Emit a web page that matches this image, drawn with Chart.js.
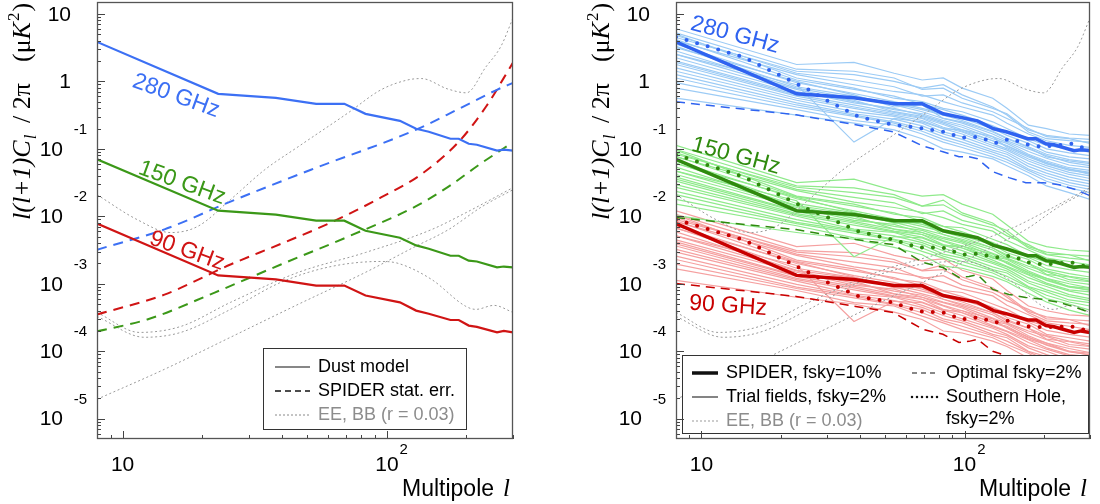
<!DOCTYPE html>
<html>
<head>
<meta charset="utf-8">
<script src="https://cdn.jsdelivr.net/npm/chart.js@4.4.1/dist/chart.umd.min.js"></script>
<style>
  body { margin: 0; background: #fff; width: 1100px; height: 504px; overflow: hidden; }
  canvas { position: absolute; top: 0; }
</style>
</head>
<body>
<canvas id="leftChart" width="550" height="504" style="left:0px"></canvas>
<canvas id="rightChart" width="550" height="504" style="left:550px"></canvas>
<script>
// axis ranges and tick labels
const xMin = 8, xMax = 300;
const yMin = 5e-6, yMax = 15;
const xMajor = [10, 100];
const xMinor = [9, 20, 30, 40, 50, 60, 70, 80, 90, 200, 300];
const yMajorExp = [1, 0, -1, -2, -3, -4, -5];

// dust model (binned), l and D_l in uK^2
const dustL = [8, 23, 38, 54, 69, 83, 112, 129, 144, 174, 187, 204, 219, 261, 277, 300];
const dust280 = [3.84, 0.653, 0.570, 0.465, 0.465, 0.330, 0.260, 0.198, 0.179, 0.141, 0.141, 0.119, 0.115, 0.094, 0.097, 0.094];
const dust150 = [0.070, 0.0121, 0.0106, 0.0086, 0.0086, 0.0061, 0.0048, 0.0037, 0.0033, 0.0026, 0.0026, 0.0022, 0.00214, 0.00175, 0.0018, 0.00175];
const dust90 = [0.0078, 0.00133, 0.00116, 0.00094, 0.00094, 0.00067, 0.00053, 0.00040, 0.00036, 0.00029, 0.00029, 0.00024, 0.00023, 0.00019, 0.0002, 0.00019];

// SPIDER stat. err.
const noise280L = [8, 14.4, 25.6, 51.6, 128, 187, 261, 300];
const noise280 = [0.0032, 0.0064, 0.0165, 0.049, 0.19, 0.39, 0.75, 0.95];
const noise150L = [8, 12.4, 22.3, 39.7, 71.4, 128, 171, 229, 300];
const noise150 = [1.97e-4, 2.96e-4, 7.4e-4, 1.93e-3, 5.0e-3, 0.0139, 0.0275, 0.0622, 0.125];
const noise90L = [8, 14.4, 25.6, 39.7, 61.5, 95, 135, 187, 237, 300];
const noise90 = [3.5e-4, 6.9e-4, 1.93e-3, 3.9e-3, 8.1e-3, 0.019, 0.042, 0.127, 0.42, 1.9];

// CMB spectra, r = 0.03
const eeL = [8, 11.35, 15.2, 19.2, 25.6, 34.5, 46.1, 71.4, 95, 120, 135, 170, 200, 237, 270, 300];
const ee = [0.0209, 0.00893, 0.00574, 0.00705, 0.0177, 0.049, 0.107, 0.342, 0.75, 1.05, 1.1, 0.77, 0.676, 1.64, 3.3, 8.7];
const bbTotL = [8, 11.6, 16.6, 25.6, 46.1, 82.8, 147.5, 199, 300];
const bbTot = [3.76e-4, 1.9e-4, 2.33e-4, 5.3e-4, 1.47e-3, 2.9e-3, 6.35e-3, 1.13e-2, 2.66e-2];
const bbTensL = [8, 12.1, 16.6, 25.6, 39.7, 61.5, 95, 110.6, 147.5, 199, 217, 254, 300];
const bbTens = [3.28e-4, 1.61e-4, 1.9e-4, 4.17e-4, 1.05e-3, 1.8e-3, 2.14e-3, 2.0e-3, 1.16e-3, 4.62e-4, 4.17e-4, 4.78e-4, 3.76e-4];
const bbLensL = [8, 14.4, 25.6, 46.1, 82.8, 128, 171, 229, 300];
const bbLens = [1.94e-5, 5.4e-5, 1.61e-4, 4.94e-4, 1.47e-3, 3.56e-3, 6.35e-3, 1.39e-2, 2.48e-2];

// Southern Hole, fsky=2%
const shL = [8, 14.4, 25.6, 29.7, 39.7, 53.5, 67, 82.8, 98, 112, 132, 150, 175, 199, 254, 300];
const sh280 = [4.55, 2.30, 0.748, 0.532, 0.298, 0.227, 0.205, 0.179, 0.146, 0.151, 0.123, 0.141, 0.115, 0.107, 0.119, 0.097];
const sh150 = [0.0818, 0.0387, 0.01256, 0.0099, 0.00594, 0.00452, 0.00344, 0.00344, 0.00271, 0.0028, 0.00245, 0.00262, 0.00207, 0.00193, 0.00207, 0.00174];
const sh90 = [0.00893, 0.00452, 0.00147, 0.00108, 0.000649, 0.000528, 0.000389, 0.000376, 0.000296, 0.000317, 0.000267, 0.000286, 0.000233, 0.000226, 0.000233, 0.000197];

// Optimal fsky=2%
const optL = [8, 22.9, 38.6, 53.5, 69.5, 82.8, 95.3, 104, 112, 128, 147.5, 171, 199, 229, 265, 300];
const opt280 = [0.497, 0.319, 0.227, 0.179, 0.11, 0.0906, 0.0764, 0.0764, 0.0714, 0.0459, 0.0374, 0.0315, 0.0315, 0.0294, 0.0248, 0.0202];
const opt150 = [0.00957, 0.00635, 0.00452, 0.00381, 0.00207, 0.00174, 0.00124, 0.00128, 0.00137, 0.000824, 0.000695, 0.000627, 0.000586, 0.000528, 0.000446, 0.000376];
const opt90 = [0.00101, 0.000649, 0.000461, 0.000376, 0.000211, 0.000178, 0.000135, 0.00014, 0.00015, 0.0000997, 0.000084, 0.000076, 0.000071, 0.000064, 0.000054, 0.000045];

// trial fields, fsky=2% (log10 of D_l)
const trialL = [8, 23, 38, 54, 69, 83, 98, 128, 145, 175, 205, 250, 300];
const trial280Log = [
  [0.78, 0.25, 0.28, 0.12, 0.02, 0.05, -0.10, -0.25, -0.40, -0.65, -0.70, -0.78, -0.80],
  [0.65, 0.15, 0.10, 0.00, -0.10, -0.05, -0.20, -0.38, -0.50, -0.75, -0.85, -0.88, -0.90],
  [0.70, 0.05, -0.10, -0.25, -0.30, -0.40, -0.45, -0.60, -0.70, -0.85, -0.95, -1.00, -1.05],
  [0.55, -0.02, -0.18, -0.30, -0.40, -0.48, -0.55, -0.70, -0.80, -0.92, -1.05, -1.12, -1.15],
  [0.45, -0.10, -0.25, -0.35, -0.45, -0.55, -0.62, -0.78, -0.88, -1.00, -1.10, -1.20, -1.25],
  [0.35, -0.15, -0.32, -0.40, -0.50, -0.60, -0.68, -0.85, -0.92, -1.08, -1.18, -1.28, -1.32],
  [0.25, -0.22, -0.38, -0.48, -0.55, -0.68, -0.75, -0.92, -1.00, -1.15, -1.25, -1.35, -1.40],
  [0.15, -0.28, -0.45, -0.52, -0.62, -0.75, -0.82, -0.98, -1.05, -1.22, -1.32, -1.42, -1.48],
  [0.05, -0.35, -0.50, -0.60, -0.70, -0.82, -0.90, -1.05, -1.12, -1.30, -1.40, -1.50, -1.56],
  [-0.10, -0.42, -0.58, -0.65, -0.78, -0.90, -0.98, -1.12, -1.20, -1.35, -1.48, -1.58, -1.65],
  [-0.25, -0.50, -0.62, -0.72, -0.85, -1.00, -1.05, -1.15, -1.25, -1.40, -1.55, -1.65, -1.75],
  [0.60, 0.10, -0.05, -0.15, -0.20, -0.30, -0.38, -0.50, -0.62, -0.78, -0.88, -0.95, -0.98],
  [0.40, -0.05, -0.90, -0.55, -0.60, -0.70, -0.72, -0.88, -0.95, -1.10, -1.20, -1.30, -1.35],
  [0.50, 0.00, -0.20, -0.38, -0.35, -0.55, -0.60, -0.75, -0.85, -0.98, -1.12, -1.18, -1.22],
  [0.30, -0.18, -0.28, -0.45, -0.52, -0.62, -0.72, -0.82, -0.98, -1.12, -1.22, -1.30, -1.38],
  [0.68, 0.12, 0.02, -0.08, -0.22, -0.20, -0.32, -0.45, -0.55, -0.70, -0.82, -0.85, -0.92],
  [0.52, -0.08, -0.22, -0.33, -0.42, -0.50, -0.58, -0.74, -0.84, -0.97, -1.08, -1.16, -1.20],
  [0.40, -0.12, -0.30, -0.42, -0.48, -0.58, -0.65, -0.82, -0.90, -1.04, -1.14, -1.24, -1.28],
  [0.20, -0.25, -0.40, -0.50, -0.58, -0.70, -0.78, -0.95, -1.02, -1.18, -1.28, -1.38, -1.44],
  [0.10, -0.32, -0.48, -0.56, -0.66, -0.78, -0.86, -1.02, -1.08, -1.26, -1.36, -1.46, -1.52],
  [0.62, 0.02, -0.12, -0.22, -0.34, -0.42, -0.50, -0.66, -0.75, -0.88, -1.00, -1.06, -1.10],
  [0.28, -0.20, -0.35, -0.46, -0.54, -0.64, -0.74, -0.88, -0.96, -1.10, -1.22, -1.32, -1.36],
  [-0.02, -0.38, -0.52, -0.62, -0.74, -0.86, -0.94, -1.08, -1.16, -1.32, -1.44, -1.54, -1.60],
  [0.72, 0.18, 0.15, 0.05, -0.12, -0.10, -0.25, -0.40, -0.48, -0.72, -0.80, -0.84, -0.86]
];
const trial150Log = [
  [-0.95, -1.50, -1.45, -1.62, -1.70, -1.68, -1.82, -1.97, -2.13, -2.37, -2.45, -2.50, -2.52],
  [-1.08, -1.57, -1.65, -1.72, -1.85, -1.76, -1.95, -2.10, -2.25, -2.47, -2.57, -2.62, -2.65],
  [-1.02, -1.70, -1.82, -1.97, -2.02, -2.15, -2.17, -2.34, -2.42, -2.59, -2.68, -2.73, -2.76],
  [-1.18, -1.74, -1.92, -2.04, -2.12, -2.21, -2.29, -2.42, -2.54, -2.64, -2.78, -2.85, -2.90],
  [-1.27, -1.84, -1.97, -2.09, -2.19, -2.27, -2.36, -2.50, -2.62, -2.74, -2.82, -2.94, -2.97],
  [-1.38, -1.87, -2.06, -2.12, -2.24, -2.33, -2.40, -2.59, -2.64, -2.81, -2.92, -3.00, -3.06],
  [-1.48, -1.96, -2.10, -2.22, -2.27, -2.42, -2.47, -2.65, -2.74, -2.87, -2.99, -3.09, -3.12],
  [-1.57, -2.00, -2.19, -2.24, -2.36, -2.47, -2.56, -2.70, -2.78, -2.96, -3.04, -3.16, -3.22],
  [-1.68, -2.09, -2.22, -2.34, -2.42, -2.56, -2.62, -2.79, -2.84, -3.04, -3.12, -3.24, -3.28],
  [-1.82, -2.14, -2.32, -2.37, -2.52, -2.62, -2.72, -2.84, -2.94, -3.07, -3.22, -3.30, -3.39],
  [-1.99, -2.24, -2.34, -2.46, -2.57, -2.74, -2.77, -2.89, -2.97, -3.14, -3.27, -3.39, -3.47],
  [-1.12, -1.62, -1.79, -1.87, -1.94, -2.02, -2.12, -2.22, -2.36, -2.50, -2.62, -2.67, -2.72],
  [-1.33, -1.77, -2.60, -2.30, -2.32, -2.44, -2.44, -2.62, -2.67, -2.84, -2.92, -3.04, -3.07],
  [-1.22, -1.72, -1.94, -2.10, -2.09, -2.27, -2.34, -2.47, -2.59, -2.70, -2.86, -2.90, -2.96],
  [-1.42, -1.92, -2.00, -2.19, -2.24, -2.36, -2.44, -2.56, -2.70, -2.86, -2.94, -3.04, -3.10],
  [-1.06, -1.60, -1.72, -1.80, -1.96, -1.92, -2.06, -2.17, -2.29, -2.42, -2.56, -2.57, -2.66],
  [-1.21, -1.81, -1.95, -2.06, -2.15, -2.23, -2.31, -2.47, -2.57, -2.70, -2.81, -2.89, -2.93],
  [-1.33, -1.85, -2.03, -2.15, -2.21, -2.31, -2.38, -2.55, -2.63, -2.77, -2.87, -2.97, -3.01],
  [-1.53, -1.98, -2.13, -2.23, -2.31, -2.43, -2.51, -2.68, -2.75, -2.91, -3.01, -3.11, -3.17],
  [-1.63, -2.05, -2.21, -2.29, -2.39, -2.51, -2.59, -2.75, -2.81, -2.99, -3.09, -3.19, -3.25],
  [-1.11, -1.71, -1.85, -1.95, -2.07, -2.15, -2.23, -2.39, -2.48, -2.61, -2.73, -2.79, -2.83],
  [-1.45, -1.93, -2.08, -2.19, -2.27, -2.37, -2.47, -2.61, -2.69, -2.83, -2.95, -3.05, -3.09],
  [-1.75, -2.11, -2.25, -2.35, -2.47, -2.59, -2.67, -2.81, -2.89, -3.05, -3.17, -3.27, -3.33],
  [-1.01, -1.55, -1.58, -1.68, -1.85, -1.83, -1.98, -2.13, -2.21, -2.45, -2.53, -2.57, -2.59]
];
const trial90Log = [
  [-1.92, -2.45, -2.40, -2.58, -2.66, -2.63, -2.80, -2.93, -3.10, -3.33, -3.40, -3.46, -3.48],
  [-2.05, -2.53, -2.60, -2.68, -2.80, -2.72, -2.90, -3.06, -3.20, -3.43, -3.55, -3.58, -3.60],
  [-1.98, -2.65, -2.78, -2.93, -2.98, -3.10, -3.13, -3.30, -3.38, -3.55, -3.63, -3.70, -3.73],
  [-2.14, -2.70, -2.88, -2.98, -3.08, -3.18, -3.24, -3.38, -3.50, -3.60, -3.75, -3.80, -3.85],
  [-2.23, -2.80, -2.92, -3.05, -3.15, -3.23, -3.32, -3.46, -3.58, -3.70, -3.78, -3.90, -3.93],
  [-2.35, -2.83, -3.02, -3.08, -3.20, -3.28, -3.36, -3.55, -3.60, -3.77, -3.88, -3.96, -4.02],
  [-2.44, -2.92, -3.06, -3.18, -3.23, -3.38, -3.43, -3.62, -3.70, -3.83, -3.95, -4.05, -4.08],
  [-2.53, -2.96, -3.15, -3.20, -3.32, -3.43, -3.52, -3.66, -3.75, -3.92, -4.00, -4.12, -4.18],
  [-2.64, -3.05, -3.18, -3.30, -3.38, -3.52, -3.58, -3.75, -3.80, -4.00, -4.08, -4.20, -4.24],
  [-2.78, -3.10, -3.28, -3.33, -3.48, -3.58, -3.68, -3.80, -3.90, -4.03, -4.18, -4.26, -4.35],
  [-2.95, -3.20, -3.30, -3.42, -3.53, -3.70, -3.73, -3.85, -3.93, -4.10, -4.23, -4.35, -4.43],
  [-2.08, -2.58, -2.75, -2.83, -2.90, -2.98, -3.08, -3.18, -3.32, -3.46, -3.58, -3.63, -3.68],
  [-2.29, -2.73, -3.56, -3.26, -3.28, -3.40, -3.40, -3.58, -3.63, -3.80, -3.88, -4.00, -4.03],
  [-2.18, -2.68, -2.90, -3.06, -3.05, -3.23, -3.30, -3.43, -3.55, -3.66, -3.82, -3.86, -3.92],
  [-2.38, -2.88, -2.96, -3.15, -3.20, -3.32, -3.40, -3.52, -3.66, -3.82, -3.90, -4.00, -4.06],
  [-2.02, -2.56, -2.68, -2.76, -2.92, -2.88, -3.02, -3.13, -3.25, -3.38, -3.52, -3.53, -3.62],
  [-2.17, -2.77, -2.91, -3.02, -3.11, -3.19, -3.27, -3.43, -3.53, -3.66, -3.77, -3.85, -3.89],
  [-2.29, -2.81, -2.99, -3.11, -3.17, -3.27, -3.34, -3.51, -3.59, -3.73, -3.83, -3.93, -3.97],
  [-2.49, -2.94, -3.09, -3.19, -3.27, -3.39, -3.47, -3.64, -3.71, -3.87, -3.97, -4.07, -4.13],
  [-2.59, -3.01, -3.17, -3.25, -3.35, -3.47, -3.55, -3.71, -3.77, -3.95, -4.05, -4.15, -4.21],
  [-2.07, -2.67, -2.81, -2.91, -3.03, -3.11, -3.19, -3.35, -3.44, -3.57, -3.69, -3.75, -3.79],
  [-2.41, -2.89, -3.04, -3.15, -3.23, -3.33, -3.43, -3.57, -3.65, -3.79, -3.91, -4.01, -4.05],
  [-2.71, -3.07, -3.21, -3.31, -3.43, -3.55, -3.63, -3.77, -3.85, -4.01, -4.13, -4.23, -4.29],
  [-1.97, -2.51, -2.54, -2.64, -2.81, -2.79, -2.94, -3.09, -3.17, -3.41, -3.49, -3.53, -3.55]
];

const BLUE = '#3c70f4', GREEN = '#3b9818', RED = '#d01414';
const BLUE_D = '#2f63f0', GREEN_D = '#2f8a0e', RED_D = '#c80000';
const BLUE_L = '#9ccbf5', GREEN_L = '#8fea8b', RED_L = '#f5a0a0';
const GRAY = '#9a9a9a';
const SANS = '"Liberation Sans", Arial, sans-serif';
const SERIF = '"Liberation Serif", "Times New Roman", serif';

function lineSet(ls, vs, color, width, dash, order, smooth) {
  return {
    data: ls.map((l, i) => ({ x: l, y: vs[i] })),
    borderColor: color,
    borderWidth: width,
    borderDash: dash || [],
    borderCapStyle: dash && dash[0] === 0 ? 'round' : 'butt',
    pointRadius: 0,
    fill: false,
    tension: 0,
    cubicInterpolationMode: smooth ? 'monotone' : 'default',
    order: order
  };
}

function graySets() {
  return [
    lineSet(eeL, ee, GRAY, 1, [2, 2.5], 5, true),
    lineSet(bbTotL, bbTot, GRAY, 1, [2, 2.5], 5, true),
    lineSet(bbTensL, bbTens, GRAY, 1, [2, 2.5], 5, true),
    lineSet(bbLensL, bbLens, GRAY, 1, [2, 2.5], 5, true)
  ];
}

function text(ctx, s, x, y, font, color, align, base) {
  ctx.font = font;
  ctx.fillStyle = color;
  ctx.textAlign = align || 'left';
  ctx.textBaseline = base || 'middle';
  ctx.fillText(s, x, y);
}

function rotText(ctx, s, x, y, deg, font, color) {
  ctx.save();
  ctx.translate(x, y);
  ctx.rotate(deg * Math.PI / 180);
  text(ctx, s, 0, 0, font, color, 'center', 'middle');
  ctx.restore();
}

function sample(ctx, x1, x2, y, color, width, dash, cap) {
  ctx.save();
  ctx.strokeStyle = color;
  ctx.lineWidth = width;
  ctx.setLineDash(dash);
  ctx.lineCap = cap || 'butt';
  ctx.beginPath();
  ctx.moveTo(x1, y);
  ctx.lineTo(x2, y);
  ctx.stroke();
  ctx.restore();
}

function drawFrame(chart) {
  const ctx = chart.ctx, a = chart.chartArea, xs = chart.scales.x, ys = chart.scales.y;
  ctx.save();
  ctx.strokeStyle = '#444';
  ctx.lineWidth = 1;
  ctx.beginPath();
  for (let e = -6; e <= 1; e++) {
    for (let k = 1; k <= 9; k++) {
      const v = k * Math.pow(10, e);
      if (v < yMin || v > yMax) continue;
      const y = Math.round(ys.getPixelForValue(v)) + 0.5;
      ctx.moveTo(a.left, y);
      ctx.lineTo(a.left + (k === 1 ? 8 : 4), y);
    }
  }
  xMajor.concat(xMinor).forEach(l => {
    const x = Math.round(xs.getPixelForValue(l)) + 0.5;
    ctx.moveTo(x, a.bottom);
    ctx.lineTo(x, a.bottom - (xMajor.includes(l) ? 8 : 4));
  });
  ctx.stroke();
  ctx.strokeStyle = '#555';
  ctx.lineWidth = 1.3;
  ctx.strokeRect(a.left + 0.5, a.top + 0.5, a.right - a.left - 1, a.bottom - a.top - 1);

  // y tick labels
  yMajorExp.forEach(e => {
    const y = ys.getPixelForValue(Math.pow(10, e));
    if (e === 1) text(ctx, '10', a.left - 26, y + 1, '21px ' + SANS, '#000', 'right');
    else if (e === 0) text(ctx, '1', a.left - 26, y + 1, '21px ' + SANS, '#000', 'right');
    else {
      text(ctx, '10', a.left - 34, y + 1, '21px ' + SANS, '#000', 'right');
      text(ctx, String(e), a.left - 10, y - 19, '15px ' + SANS, '#000', 'right');
    }
  });
  // x tick labels
  const x10 = xs.getPixelForValue(10), x100 = xs.getPixelForValue(100);
  text(ctx, '10', x10, 465, '21px ' + SANS, '#000', 'center');
  text(ctx, '10', x100, 465, '21px ' + SANS, '#000', 'center');
  ctx.font = '21px ' + SANS;
  const w10 = ctx.measureText('10').width;
  text(ctx, '2', x100 + w10 / 2 + 1, 450, '15px ' + SANS, '#000', 'left');

  // x title
  text(ctx, 'Multipole', a.right - 111, 496, '23px ' + SANS, '#000', 'left', 'alphabetic');
  text(ctx, 'l', a.right - 10, 496, 'italic 25px ' + SERIF, '#000', 'left', 'alphabetic');

  // y title
  ctx.translate(a.left - 67, 220);
  ctx.rotate(-Math.PI / 2);
  text(ctx, 'l(l+1)C', 0, 0, 'italic 26px ' + SERIF, '#000', 'left', 'alphabetic');
  const w1 = ctx.measureText('l(l+1)C').width;
  text(ctx, 'l', w1 + 1, 6, 'italic 17px ' + SERIF, '#000', 'left', 'alphabetic');
  text(ctx, '/ 2\u03c0', 97, 0, '26px ' + SERIF, '#000', 'left', 'alphabetic');
  let x = 158;
  text(ctx, '(\u03bc', x, 0, '26px ' + SERIF, '#000', 'left', 'alphabetic');
  x += ctx.measureText('(\u03bc').width;
  text(ctx, 'K', x, 0, 'italic 26px ' + SERIF, '#000', 'left', 'alphabetic');
  x += ctx.measureText('K').width;
  text(ctx, '2', x + 1, -11, '17px ' + SERIF, '#000', 'left', 'alphabetic');
  x += ctx.measureText('2').width + 2;
  text(ctx, ')', x, 0, '26px ' + SERIF, '#000', 'left', 'alphabetic');
  ctx.restore();
}

const leftDecor = {
  id: 'leftDecor',
  afterDraw(chart) {
    const ctx = chart.ctx;
    ctx.save();
    ctx.fillStyle = '#fff';
    ctx.fillRect(263, 348, 203, 81);
    ctx.strokeStyle = '#333';
    ctx.lineWidth = 1;
    ctx.strokeRect(263.5, 348.5, 203, 81);
    sample(ctx, 275, 310, 367, '#111', 1.2, []);
    sample(ctx, 275, 310, 391, '#111', 1.5, [6, 4]);
    sample(ctx, 275, 310, 415, '#888', 1, [2, 2]);
    text(ctx, 'Dust model', 318, 367, '18px ' + SANS, '#000');
    text(ctx, 'SPIDER stat. err.', 318, 391, '18px ' + SANS, '#000');
    text(ctx, 'EE, BB (r = 0.03)', 318, 415, '18px ' + SANS, '#8c8c8c');
    rotText(ctx, '280 GHz', 176, 96, 20, '23px ' + SANS, BLUE);
    rotText(ctx, '150 GHz', 182, 183, 20, '23px ' + SANS, GREEN);
    rotText(ctx, '90 GHz', 187, 251, 20, '23px ' + SANS, RED);
    ctx.restore();
    drawFrame(chart);
  }
};

const rightDecor = {
  id: 'rightDecor',
  afterDraw(chart) {
    const ctx = chart.ctx;
    ctx.save();
    ctx.fillStyle = '#fff';
    ctx.fillRect(132, 355, 407, 79);
    ctx.strokeStyle = '#333';
    ctx.lineWidth = 1;
    ctx.strokeRect(132.5, 355.5, 406, 78);
    sample(ctx, 142, 168, 373, '#111', 3.5, []);
    sample(ctx, 142, 168, 397, '#333', 1.2, []);
    sample(ctx, 142, 168, 421, '#999', 1, [2, 2]);
    sample(ctx, 362, 388, 373, '#111', 1.2, [5, 4]);
    sample(ctx, 362, 388, 397, '#111', 2.5, [0, 5], 'round');
    text(ctx, 'SPIDER, fsky=10%', 176, 373, '18px ' + SANS, '#000');
    text(ctx, 'Trial fields, fsky=2%', 176, 397, '18px ' + SANS, '#000');
    text(ctx, 'EE, BB (r = 0.03)', 176, 421, '18px ' + SANS, '#8c8c8c');
    text(ctx, 'Optimal fsky=2%', 396, 373, '18px ' + SANS, '#000');
    text(ctx, 'Southern Hole,', 396, 397, '18px ' + SANS, '#000');
    text(ctx, 'fsky=2%', 396, 419, '18px ' + SANS, '#000');
    rotText(ctx, '280 GHz', 185, 35, 15, '23px ' + SANS, BLUE_D);
    rotText(ctx, '150 GHz', 186, 156, 15, '23px ' + SANS, GREEN_D);
    rotText(ctx, '90 GHz', 178, 306, 4, '23px ' + SANS, RED_D);
    ctx.restore();
    drawFrame(chart);
  }
};

function chartOptions(padding) {
  return {
    responsive: false,
    animation: false,
    devicePixelRatio: 1,
    layout: { padding: padding },
    plugins: { legend: { display: false }, tooltip: { enabled: false } },
    elements: { point: { radius: 0 } },
    scales: {
      x: { type: 'logarithmic', min: xMin, max: xMax, display: false, bounds: 'data' },
      y: { type: 'logarithmic', min: yMin, max: yMax, display: false, bounds: 'data' }
    }
  };
}

const leftSets = [
  lineSet(dustL, dust280, BLUE, 2.2, [], 1),
  lineSet(dustL, dust150, GREEN, 2.2, [], 1),
  lineSet(dustL, dust90, RED, 2.2, [], 1),
  lineSet(noise280L, noise280, BLUE, 2, [10, 7], 2, true),
  lineSet(noise150L, noise150, GREEN, 2, [10, 7], 2, true),
  lineSet(noise90L, noise90, RED, 2, [10, 7], 2, true)
].concat(graySets());

new Chart(document.getElementById('leftChart'), {
  type: 'line',
  data: { datasets: leftSets },
  options: chartOptions({ left: 97, right: 37, top: 2, bottom: 65 }),
  plugins: [leftDecor]
});

const rightSets = [
  lineSet(shL, sh280, BLUE_D, 4, [0, 11], 0),
  lineSet(shL, sh150, GREEN_D, 4, [0, 11], 0),
  lineSet(shL, sh90, RED_D, 4, [0, 11], 0),
  lineSet(dustL, dust280, BLUE_D, 3.5, [], 1),
  lineSet(dustL, dust150, GREEN_D, 3.5, [], 1),
  lineSet(dustL, dust90, RED_D, 3.5, [], 1),
  lineSet(optL, opt280, BLUE_D, 1.5, [9, 6], 2),
  lineSet(optL, opt150, GREEN_D, 1.5, [9, 6], 2),
  lineSet(optL, opt90, RED_D, 1.5, [9, 6], 2)
].concat(graySets());

[[trial280Log, BLUE_L], [trial150Log, GREEN_L], [trial90Log, RED_L]].forEach(([rows, color]) => {
  rows.forEach(row => {
    rightSets.push(lineSet(trialL, row.map(v => Math.pow(10, v)), color, 1.2, [], 10));
  });
});

new Chart(document.getElementById('rightChart'), {
  type: 'line',
  data: { datasets: rightSets },
  options: chartOptions({ left: 126, right: 10, top: 2, bottom: 65 }),
  plugins: [rightDecor]
});
</script>
</body>
</html>
